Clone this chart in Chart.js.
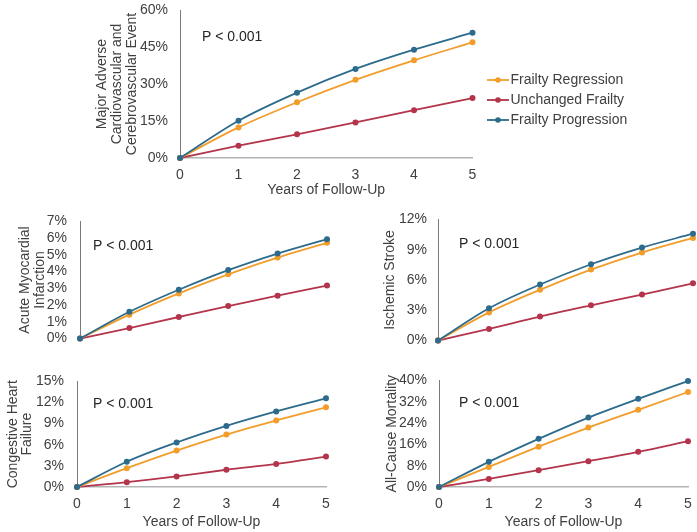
<!DOCTYPE html>
<html lang="en">
<head>
    <meta charset="UTF-8">
    <title>Frailty Trajectory Outcomes</title>
    <script src="https://cdn.jsdelivr.net/npm/chart.js"></script>
    <style>
        body {
            margin: 0;
            background: #ffffff;
        }
        .wrap {
            position: relative;
            width: 697px;
            height: 532px;
        }
        .wrap canvas {
            position: absolute;
        }
        #mace { left: 0; top: 0; }
        #ami { left: 0; top: 200px; }
        #stroke { left: 350px; top: 200px; }
        #chf { left: 0; top: 360px; }
        #acm { left: 350px; top: 360px; }
    </style>
</head>
<body>
    <div class="wrap">
        <canvas id="mace" width="630" height="200"></canvas>
        <canvas id="ami" width="340" height="160"></canvas>
        <canvas id="stroke" width="347" height="160"></canvas>
        <canvas id="chf" width="340" height="172"></canvas>
        <canvas id="acm" width="347" height="172"></canvas>
    </div>

    <script>
        // data (cumulative incidence, %)
        const years = [0, 1, 2, 3, 4, 5];
        const seriesNames = ['Frailty Regression', 'Unchanged Frailty', 'Frailty Progression'];
        const pText = 'P < 0.001';

        const maceRegression = [0, 12.4, 22.6, 31.7, 39.6, 46.9];
        const maceUnchanged = [0, 5.0, 9.6, 14.4, 19.4, 24.3];
        const maceProgression = [0, 15.1, 26.5, 36.1, 43.9, 50.8];

        const amiRegression = [0, 1.43, 2.70, 3.84, 4.84, 5.72];
        const amiUnchanged = [0, 0.63, 1.29, 1.94, 2.56, 3.17];
        const amiProgression = [0, 1.60, 2.92, 4.09, 5.08, 5.94];

        const strokeRegression = [0, 2.79, 5.03, 7.03, 8.72, 10.17];
        const strokeUnchanged = [0, 1.16, 2.38, 3.49, 4.56, 5.67];
        const strokeProgression = [0, 3.20, 5.55, 7.56, 9.21, 10.58];

        const chfRegression = [0, 2.68, 5.18, 7.45, 9.45, 11.32];
        const chfUnchanged = [0, 0.68, 1.50, 2.45, 3.27, 4.32];
        const chfProgression = [0, 3.59, 6.32, 8.68, 10.73, 12.59];

        const acmRegression = [0, 7.52, 15.15, 22.3, 28.97, 35.64];
        const acmUnchanged = [0, 3.03, 6.3, 9.7, 13.2, 17.2];
        const acmProgression = [0, 9.45, 18.06, 26.06, 33.09, 39.76];

        const colors = ['#F29D2A', '#B3344B', '#2C6B8C'];
        const FONT = '"Liberation Sans", Arial, sans-serif';
        const textColor = '#404040';

        // legend marker: short line with a dot, like the Excel legend
        function legendMarker(color) {
            const c = document.createElement('canvas');
            c.width = 36; c.height = 8;
            const g = c.getContext('2d');
            g.strokeStyle = color;
            g.lineWidth = 1.8;
            g.beginPath(); g.moveTo(14, 4); g.lineTo(36, 4); g.stroke();
            g.fillStyle = color;
            g.beginPath(); g.arc(25, 4, 2.8, 0, Math.PI * 2); g.fill();
            return c;
        }

        const pLabel = {
            id: 'pLabel',
            afterDatasetsDraw(chart, args, opts) {
                const {ctx, chartArea} = chart;
                ctx.save();
                ctx.font = '14px ' + FONT;
                ctx.fillStyle = '#262626';
                ctx.textBaseline = 'middle';
                ctx.fillText(opts.text, chartArea.left + opts.dx, chartArea.top + opts.dy);
                ctx.restore();
            }
        };

        function makeDatasets(reg, unch, prog) {
            const vals = [reg, unch, prog];
            const order = [1, 2, 0];   // progression drawn on top
            return vals.map((v, i) => ({
                label: seriesNames[i],
                data: v,
                borderColor: colors[i],
                backgroundColor: colors[i],
                borderWidth: 1.8,
                pointRadius: 3,
                pointBorderWidth: 0,
                pointHoverRadius: 3,
                cubicInterpolationMode: 'monotone',
                clip: false,
                order: order[i]
            }));
        }

        function makeChart(id, o) {
            const ctx = document.getElementById(id).getContext('2d');
            return new Chart(ctx, {
                type: 'line',
                data: { labels: years, datasets: makeDatasets(o.reg, o.unch, o.prog) },
                plugins: [pLabel],
                options: {
                    responsive: false,
                    animation: false,
                    layout: { padding: o.padding },
                    plugins: {
                        tooltip: { enabled: false },
                        legend: o.legend || { display: false },
                        pLabel: { text: pText, dx: o.pdx, dy: o.pdy }
                    },
                    scales: {
                        x: {
                            display: o.showX,
                            grid: { display: false, drawTicks: false },
                            border: { display: true, color: '#b3b3b3', width: 1.5 },
                            ticks: { color: textColor, padding: 9, font: { family: FONT, size: 14 } },
                            title: {
                                display: true,
                                text: 'Years of Follow-Up',
                                color: textColor,
                                font: { family: FONT, size: 14 },
                                padding: { top: 0, bottom: 1 }
                            },
                            afterFit: s => { s.height = o.xHeight; s.paddingLeft = 0; s.paddingRight = 0; }
                        },
                        y: {
                            min: 0,
                            max: o.max,
                            grid: { display: false, drawTicks: false },
                            border: { display: true, color: '#7a7a7a', width: 1 },
                            ticks: {
                                stepSize: o.step,
                                autoSkip: false,
                                color: textColor,
                                padding: o.tickPad,
                                font: { family: FONT, size: 14 },
                                callback: v => v + '%'
                            },
                            title: {
                                display: true,
                                text: o.title,
                                color: textColor,
                                font: { family: FONT, size: 14, lineHeight: o.titleLH },
                                padding: { top: o.titlePad, bottom: 0 }
                            },
                            afterFit: s => {
                                s.width = o.yWidth;
                                if (o.padTop !== undefined) s.paddingTop = o.padTop;
                            }
                        }
                    }
                }
            });
        }

        const markers = colors.map(legendMarker);

        makeChart('mace', {
            reg: maceRegression, unch: maceUnchanged, prog: maceProgression,
            max: 60, step: 15,
            title: ['Major Adverse', 'Cardiovascular and', 'Cerebrovascular Event'],
            titleLH: 1.1, titlePad: 94, tickPad: 12, yWidth: 180, padTop: 10,
            padding: 0, showX: true, xHeight: 42, pdx: 22, pdy: 27,
            legend: {
                display: true,
                position: 'right',
                labels: {
                    usePointStyle: true,
                    pointStyleWidth: 25,
                    padding: 6,
                    color: textColor,
                    font: { family: FONT, size: 14 },
                    generateLabels: chart => chart.data.datasets.map((ds, i) => ({
                        text: ds.label,
                        pointStyle: markers[i],
                        fillStyle: ds.borderColor,
                        strokeStyle: ds.borderColor,
                        lineWidth: 0,
                        hidden: false,
                        fontColor: textColor,
                        datasetIndex: i
                    }))
                }
            }
        });

        makeChart('ami', {
            reg: amiRegression, unch: amiUnchanged, prog: amiProgression,
            max: 7, step: 1,
            title: ['Acute Myocardial', 'Infarction'],
            titleLH: 1.07, titlePad: 17.5, tickPad: 13, yWidth: 80,
            padding: { top: 13, bottom: 9, right: 13, left: 0 },
            showX: false, xHeight: 0, pdx: 13, pdy: 25
        });

        makeChart('stroke', {
            reg: strokeRegression, unch: strokeUnchanged, prog: strokeProgression,
            max: 12, step: 3,
            title: 'Ischemic Stroke',
            titleLH: 1.07, titlePad: 32.5, tickPad: 11, yWidth: 88,
            padding: { top: 13, bottom: 9, right: 4, left: 0 },
            showX: false, xHeight: 0, pdx: 21, pdy: 25
        });

        makeChart('chf', {
            reg: chfRegression, unch: chfUnchanged, prog: chfProgression,
            max: 15, step: 3,
            title: ['Congestive Heart', 'Failure'],
            titleLH: 1.0, titlePad: 6, tickPad: 13, yWidth: 77,
            padding: { top: 17, bottom: 0, right: 14, left: 0 },
            showX: true, xHeight: 45, pdx: 16, pdy: 23
        });

        makeChart('acm', {
            reg: acmRegression, unch: acmUnchanged, prog: acmProgression,
            max: 40, step: 8,
            title: 'All-Cause Mortality',
            titleLH: 1.07, titlePad: 34.5, tickPad: 12, yWidth: 89,
            padding: { top: 17, bottom: 0, right: 9, left: 0 },
            showX: true, xHeight: 45, pdx: 20, pdy: 23
        });
    </script>
</body>
</html>
